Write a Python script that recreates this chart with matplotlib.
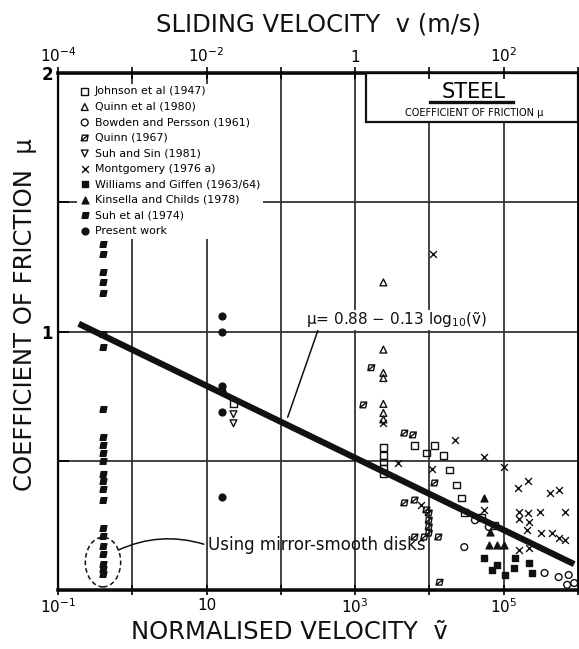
import matplotlib
matplotlib.use("Agg")
import matplotlib.pyplot as plt
from matplotlib.path import Path
from matplotlib.patches import Ellipse, Rectangle

plt.rcParams["font.family"] = ["DejaVu Sans"]
plt.rcParams["mathtext.default"] = "regular"

# ---- data (normalised velocity, coefficient of friction) ----
johnson_v = [23, 2400, 2400, 2400, 2400, 2400, 6300, 9100, 11700, 15500, 18600,
             23000, 27000, 29500, 50000, 76000]
johnson_mu = [0.72, 0.55, 0.52, 0.495, 0.47, 0.45, 0.56, 0.53, 0.56, 0.52, 0.464,
              0.406, 0.356, 0.30, 0.28, 0.25]

quinn80_v = [2400, 2400, 2400, 2400, 2400, 2400, 2400]
quinn80_mu = [1.19, 0.93, 0.84, 0.82, 0.72, 0.685, 0.66]

bowden_v = [29500, 41000, 63000, 355000, 550000, 750000, 890000, 715000]
bowden_mu = [0.166, 0.27, 0.244, 0.066, 0.05, 0.058, 0.027, 0.02]

quinn67_v = [1650, 1290, 4600, 6000, 6300, 4600, 9100, 11700, 9800, 9800, 9800,
             9800, 6300, 8500, 13200, 13700]
quinn67_mu = [0.86, 0.716, 0.607, 0.60, 0.348, 0.337, 0.31, 0.414, 0.298, 0.27,
              0.244, 0.22, 0.205, 0.205, 0.205, 0.03]

suhsin_v = [23, 23]
suhsin_mu = [0.68, 0.645]

montgomery_v = [11300, 2400, 21900, 3800, 10700, 55000, 100000, 7800, 54000,
                155000, 210000, 415000, 550000, 160000, 210000, 305000, 665000,
                160000, 218000, 205000, 315000, 445000, 550000, 665000, 218000,
                160000]
montgomery_mu = [1.30, 0.646, 0.58, 0.49, 0.47, 0.515, 0.476, 0.33, 0.31,
                 0.395, 0.42, 0.375, 0.387, 0.30, 0.298, 0.30, 0.30,
                 0.275, 0.263, 0.232, 0.22, 0.22, 0.20, 0.193, 0.162, 0.155]

williams_v = [55000, 81000, 103000, 137000, 142000, 218000, 240000, 69000]
williams_mu = [0.124, 0.097, 0.058, 0.085, 0.124, 0.104, 0.066, 0.077]

kinsella_v = [54000, 65000, 63000, 81000, 100000]
kinsella_mu = [0.356, 0.224, 0.174, 0.174, 0.174]

suh74_v = [0.4, 0.4, 0.4, 0.4, 0.4, 0.4, 0.4, 0.4, 0.4, 0.4, 0.4, 0.4, 0.4,
           0.4, 0.4, 0.4, 0.4, 0.4, 0.4, 0.4, 0.4, 0.4, 0.4]
suh74_mu = [1.34, 1.30, 1.23, 1.19, 1.15, 0.99, 0.94, 0.70, 0.59, 0.56, 0.53,
            0.50, 0.45, 0.42, 0.39, 0.35, 0.24, 0.21, 0.17, 0.14, 0.10, 0.08, 0.06]

present_v = [16, 16, 16, 16, 16, 16]
present_mu = [1.06, 1.00, 0.79, 0.77, 0.69, 0.36]

fit_v = [0.19, 890000]
fit_mu = [1.03, 0.10]

bottom_ticks = [1e-1, 1e0, 1e1, 1e2, 1e3, 1e4, 1e5, 1e6]
bottom_labels = ["$10^{-1}$", "", "10", "", "$10^{3}$", "", "$10^{5}$", ""]
top_ticks = [1e-4, 1e-3, 1e-2, 1e-1, 1e0, 1e1, 1e2, 1e3]
top_labels = ["$10^{-4}$", "", "$10^{-2}$", "", "1", "", "$10^{2}$", ""]
y_ticks = [0.5, 1.0, 1.5, 2.0]
y_labels = ["", "1", "", "2"]

# ---- markers ----
slash_sq = Path([(-1.2, -1), (0.8, -1), (1.2, 1), (-0.8, 1), (-1.2, -1),
                 (-1.0, -0.8), (1.0, 0.8)],
                [Path.MOVETO, Path.LINETO, Path.LINETO, Path.LINETO,
                 Path.CLOSEPOLY, Path.MOVETO, Path.LINETO])
para = Path([(-1.2, -1), (0.8, -1), (1.2, 1), (-0.8, 1), (-1.2, -1)],
            [Path.MOVETO, Path.LINETO, Path.LINETO, Path.LINETO, Path.CLOSEPOLY])

fig = plt.figure(figsize=(5.79, 6.49), dpi=100)
ax = fig.add_axes([0.1002, 0.0909, 0.898, 0.7966])
ax.set_xscale("log")
ax.set_xlim(1e-1, 1e6)
ax.set_ylim(0, 2)

k = "#111111"
s = 24
ax.scatter(johnson_v, johnson_mu, marker="s", s=s, facecolors="none",
           edgecolors=k, linewidths=1, label="Johnson et al (1947)", zorder=4)
ax.scatter(quinn80_v, quinn80_mu, marker="^", s=s, facecolors="none",
           edgecolors=k, linewidths=1, label="Quinn et al (1980)", zorder=4)
ax.scatter(bowden_v, bowden_mu, marker="o", s=s, facecolors="none",
           edgecolors=k, linewidths=1, label="Bowden and Persson (1961)", zorder=4)
ax.scatter(quinn67_v, quinn67_mu, marker=slash_sq, s=s, facecolors="none",
           edgecolors=k, linewidths=1, label="Quinn (1967)", zorder=4)
ax.scatter(suhsin_v, suhsin_mu, marker="v", s=s, facecolors="none",
           edgecolors=k, linewidths=1, label="Suh and Sin (1981)", zorder=4)
ax.scatter(montgomery_v, montgomery_mu, marker="x", s=s, color=k,
           linewidths=1, label="Montgomery (1976 a)", zorder=4)
ax.scatter(williams_v, williams_mu, marker="s", s=s, color=k,
           label="Williams and Giffen (1963/64)", zorder=4)
ax.scatter(kinsella_v, kinsella_mu, marker="^", s=s, color=k,
           label="Kinsella and Childs (1978)", zorder=4)
ax.scatter(suh74_v, suh74_mu, marker=para, s=s, color=k,
           label="Suh et al (1974)", zorder=4)
ax.scatter(present_v, present_mu, marker="o", s=s, color=k,
           label="Present work", zorder=4)

ax.plot(fit_v, fit_mu, color=k, lw=4.5, solid_capstyle="butt", zorder=5)

# axes, ticks, grid
ax.set_xticks(bottom_ticks)
ax.set_xticklabels(bottom_labels, fontsize=11)
ax.minorticks_off()
ax.set_yticks(y_ticks)
ax.set_yticklabels(y_labels, fontsize=12, fontweight="bold")
ax.set_yticks([i / 10 for i in range(1, 20)], minor=True)
ax.tick_params(axis="x", direction="inout", length=7, width=1.2, pad=2)
ax.tick_params(axis="y", which="major", direction="in", length=8, width=1.2)
ax.tick_params(axis="y", which="minor", direction="in", length=3, width=0.8)
ax.grid(True, which="major", color="#333333", lw=1.3)
for side, lw in [("top", 2.6), ("bottom", 2.6), ("left", 1.6), ("right", 1.3)]:
    ax.spines[side].set_linewidth(lw)
    ax.spines[side].set_color(k)

top = ax.twiny()
top.set_xscale("log")
top.set_xlim(1e-4, 1e3)
top.set_xticks(top_ticks)
top.set_xticklabels(top_labels, fontsize=11)
top.minorticks_off()
top.tick_params(axis="x", direction="inout", length=9, width=1.2, pad=1)

leg = ax.legend(loc="upper left", bbox_to_anchor=(0.025, 0.99), fontsize=7.9,
                frameon=True, facecolor="white", edgecolor="none", framealpha=1,
                handletextpad=0.4, labelspacing=0.5, borderpad=0.25,
                handlelength=1.0, scatterpoints=1)
leg.set_zorder(6)

# STEEL box
ax.add_patch(Rectangle((0.592, 0.905), 0.408, 0.095, transform=ax.transAxes,
                       facecolor="white", edgecolor=k, lw=1.6, zorder=6))
ax.text(0.80, 0.963, "STEEL", transform=ax.transAxes, ha="center", va="center",
        fontsize=15, zorder=7)
ax.plot([0.715, 0.875], [0.944, 0.944], transform=ax.transAxes, color=k,
        lw=2.4, zorder=7)
ax.text(0.80, 0.923, "COEFFICIENT OF FRICTION \u03bc", transform=ax.transAxes,
        ha="center", va="center", fontsize=7, zorder=7)

# equation with leader line
ax.annotate("", xy=(120, 0.658), xytext=(324, 1.014),
            arrowprops=dict(arrowstyle="-", color=k, lw=1.1), zorder=6)
ax.text(219, 1.045, "\u03bc= 0.88 \u2212 0.13 log$_{10}$(\u1e7d)", fontsize=11,
        ha="left", va="center", color=k, zorder=6,
        bbox=dict(facecolor="white", edgecolor="none", pad=0.5))

# mirror-smooth disks note
ax.add_patch(Ellipse((0.0865, 0.054), 0.068, 0.096, transform=ax.transAxes,
                     fill=False, edgecolor=k, lw=1.1, ls=(0, (3, 2)), zorder=5))
ax.text(10.5, 0.174, "Using mirror-smooth disks", fontsize=12, ha="left",
        va="center", color=k, zorder=6)
ax.annotate("", xy=(0.6, 0.15), xytext=(10.0, 0.174),
            arrowprops=dict(arrowstyle="-", color=k, lw=1.1,
                            connectionstyle="arc3,rad=0.2"))

fig.text(0.55, 0.962, "SLIDING VELOCITY  v (m/s)", ha="center", va="center",
         fontsize=17.5, color=k)
fig.text(0.50, 0.026, "NORMALISED VELOCITY  \u1e7d", ha="center", va="center",
         fontsize=17.5, color=k)
fig.text(0.043, 0.515, "COEFFICIENT OF FRICTION  \u03bc", ha="center",
         va="center", rotation=90, fontsize=17.5, color=k)

fig.savefig("out.png", dpi=100)
